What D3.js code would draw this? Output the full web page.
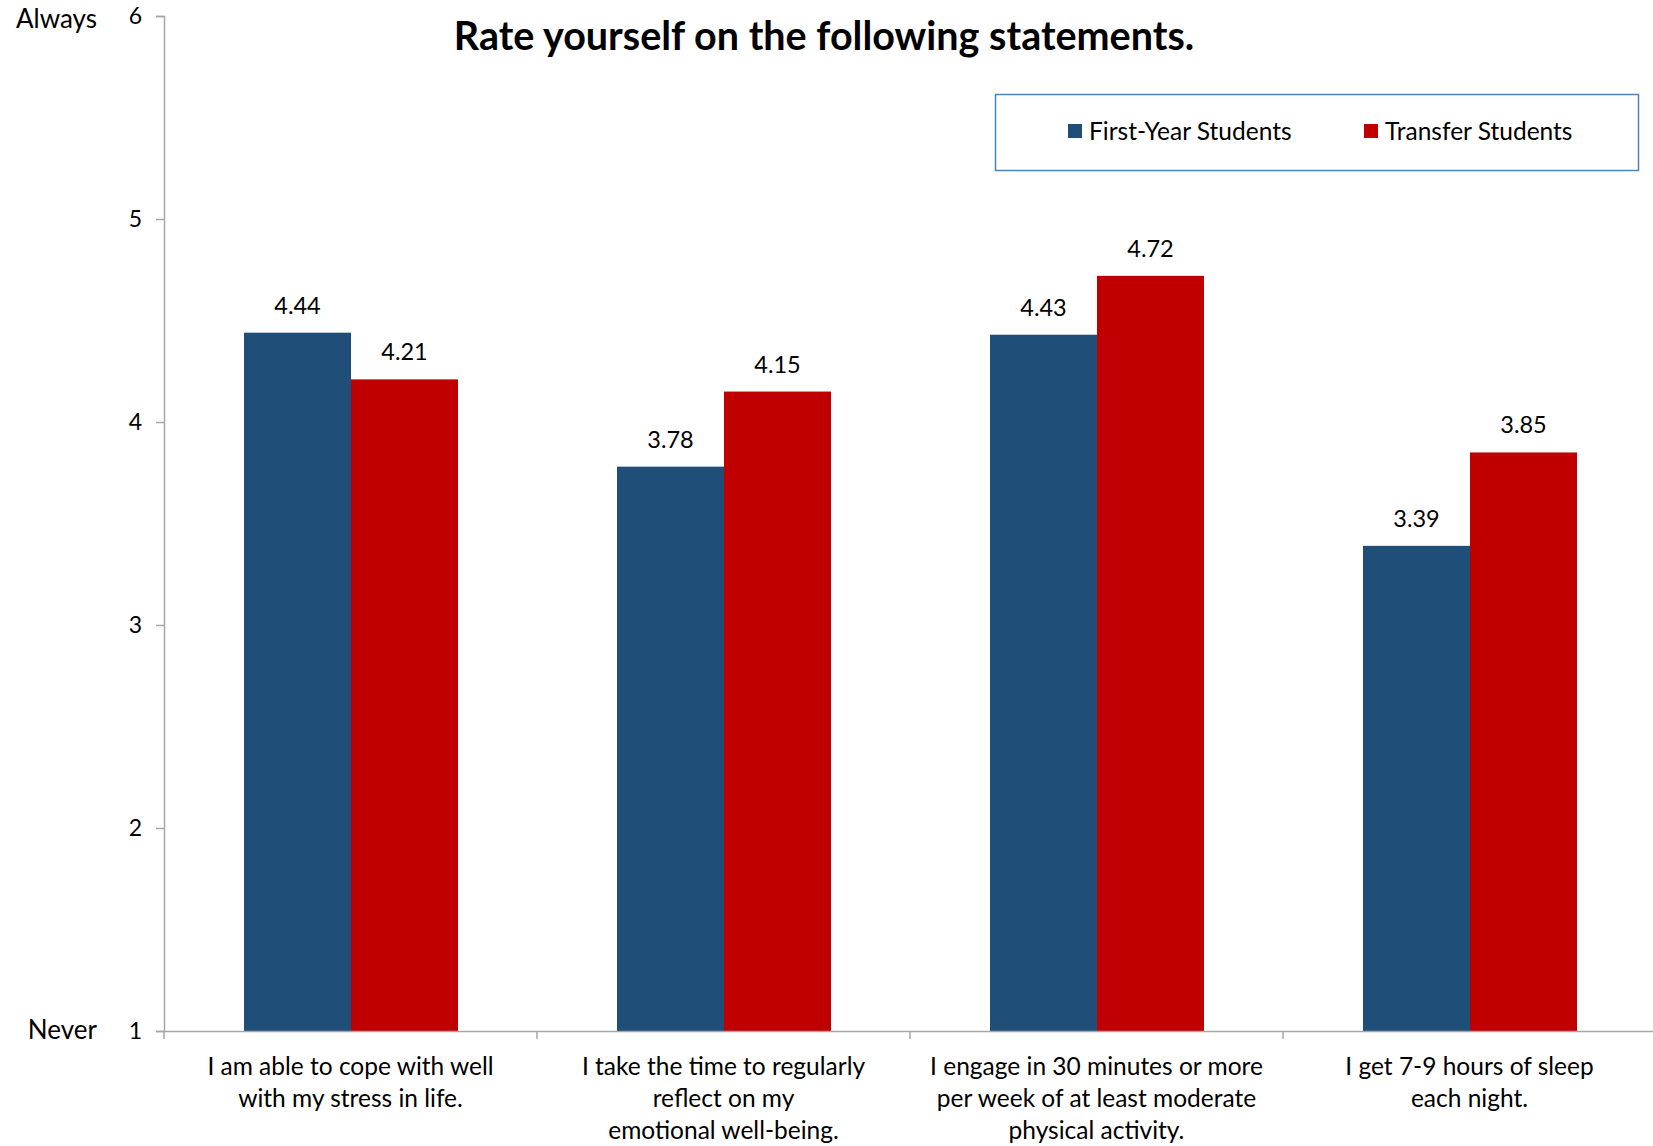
<!DOCTYPE html>
<html>
<head>
<meta charset="utf-8">
<script src="https://cdn.jsdelivr.net/npm/d3@7"></script>
<style>
  html, body { margin: 0; padding: 0; background: #fff; }
  svg { display: block; }
  text { font-family: Lato, "Noto Sans", sans-serif; fill: #000; }
</style>
</head>
<body>
<svg id="chart" width="1653" height="1146"></svg>
<script>
const categories = [
  ["I am able to cope with well", "with my stress in life."],
  ["I take the time to regularly", "reflect on my", "emotional well-being."],
  ["I engage in 30 minutes or more", "per week of at least moderate", "physical activity."],
  ["I get 7-9 hours of sleep", "each night."]
];
const seriesNames = ["First-Year Students", "Transfer Students"];
const firstYear = [4.44, 3.78, 4.43, 3.39];
const transfer = [4.21, 4.15, 4.72, 3.85];
const yTicks = [1, 2, 3, 4, 5, 6];
const yEndLabels = { 6: "Always", 1: "Never" };
const title = "Rate yourself on the following statements.";
const colors = ["#1F4E79", "#C00000"];

(function () {
const svg = d3.select("#chart");
const pLeft = 164, pRight = 1656, pTop = 16, pBottom = 1031;

const x = d3.scaleBand().domain(d3.range(categories.length)).range([pLeft, pRight]).paddingInner(0).paddingOuter(0);
const inner = d3.scaleBand().domain([0, 1]).range([80, x.bandwidth() - 79]);
const y = d3.scaleLinear().domain([1, 6]).range([pBottom, pTop]);

const axisColor = "#A6A6A6";

// Bars
const data = categories.map((c, i) => ({ i, vals: [firstYear[i], transfer[i]] }));
const groups = svg.append("g").selectAll("g").data(data).join("g")
  .attr("transform", d => `translate(${x(d.i)},0)`);
groups.selectAll("rect").data(d => d.vals.map((v, s) => ({ v, s }))).join("rect")
  .attr("x", d => inner(d.s))
  .attr("width", inner.bandwidth())
  .attr("y", d => y(d.v))
  .attr("height", d => y(1) - y(d.v))
  .attr("fill", d => colors[d.s]);
groups.selectAll("text.val").data(d => d.vals.map((v, s) => ({ v, s }))).join("text")
  .attr("class", "val")
  .attr("x", d => inner(d.s) + inner.bandwidth() / 2)
  .attr("y", d => y(d.v) - 19)
  .attr("text-anchor", "middle")
  .style("font-size", "23.5px")
  .text(d => d.v.toFixed(2));

// Y axis
const yAxis = d3.axisLeft(y).tickValues(yTicks).tickSize(8).tickPadding(14).tickFormat(d3.format("d"));
const gy = svg.append("g").attr("transform", `translate(${pLeft},0)`).call(yAxis);
gy.select(".domain").attr("stroke", axisColor).attr("stroke-width", 1.5);
gy.selectAll(".tick line").attr("stroke", axisColor).attr("stroke-width", 1.5);
gy.selectAll(".tick text").style("font-size", "23px").style("font-family", "Lato, sans-serif").attr("fill", "#000");

Object.entries(yEndLabels).forEach(([v, t]) => {
  svg.append("text")
    .attr("x", 97)
    .attr("y", Math.max(y(+v), 20))
    .attr("dy", "0.32em")
    .attr("text-anchor", "end")
    .style("font-size", "26px")
    .text(t);
});

// X axis
const xAxis = d3.axisBottom(x).tickSize(0).tickFormat("");
const gx = svg.append("g").attr("transform", `translate(0,${pBottom})`).call(xAxis);
gx.select(".domain").attr("stroke", axisColor).attr("stroke-width", 1.5);
gx.selectAll(".tick").remove();
const seps = d3.range(categories.length + 1).map(i => i < categories.length ? x(i) : pRight);
gx.selectAll("line.sep").data(seps).join("line")
  .attr("class", "sep")
  .attr("x1", d => d).attr("x2", d => d)
  .attr("y1", 0).attr("y2", 8)
  .attr("stroke", axisColor).attr("stroke-width", 1.5);

// Category labels
categories.forEach((lines, i) => {
  const t = svg.append("text")
    .attr("x", x(i) + x.bandwidth() / 2)
    .attr("y", 1075)
    .attr("text-anchor", "middle")
    .style("font-size", "24.5px");
  lines.forEach((ln, k) => {
    t.append("tspan").attr("x", x(i) + x.bandwidth() / 2).attr("dy", k === 0 ? 0 : 32).text(ln);
  });
});

// Title
svg.append("text")
  .attr("x", 824)
  .attr("y", 50)
  .attr("text-anchor", "middle")
  .style("font-size", "39.5px")
  .style("font-weight", "bold")
  .text(title);

// Legend
const lg = svg.append("g");
lg.append("rect")
  .attr("x", 995.5).attr("y", 94.5)
  .attr("width", 643).attr("height", 76)
  .attr("fill", "#fff")
  .attr("stroke", "#4F81BD").attr("stroke-width", 1.5);
const legendX = [1068, 1364];
seriesNames.forEach((n, s) => {
  lg.append("rect")
    .attr("x", legendX[s]).attr("y", 124)
    .attr("width", 14).attr("height", 14)
    .attr("fill", colors[s]);
  lg.append("text")
    .attr("x", legendX[s] + 21).attr("y", 140)
    .style("font-size", "24.5px")
    .text(n);
});
})();
</script>
</body>
</html>
